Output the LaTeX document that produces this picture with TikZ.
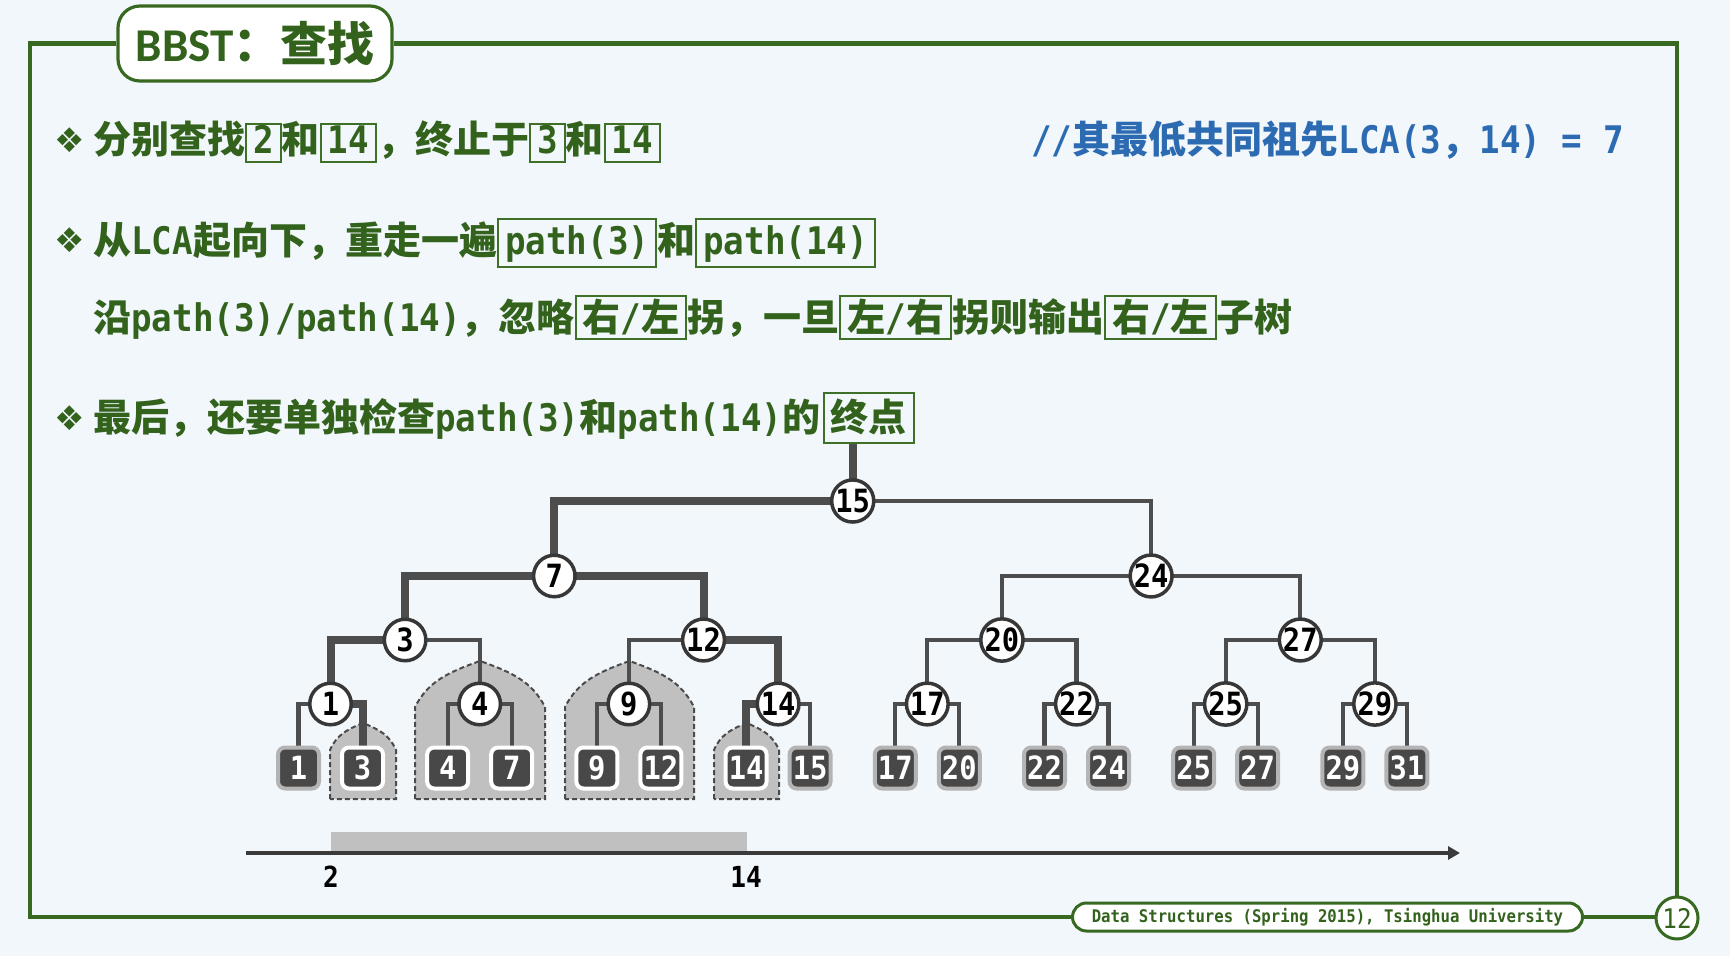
\documentclass[tikz,border=0pt]{standalone}
\usepackage{fontspec}
\usetikzlibrary{arrows.meta}
\newfontfamily\mymono{DejaVu Sans Mono}[FakeStretch=0.90]
\newfontfamily\cjkf{Noto Sans CJK SC}
\newfontfamily\calfont{Carlito}
\newfontfamily\dejafont{DejaVu Sans}
\newcommand\fsz[1]{\fontsize{#1}{#1}\selectfont}
\definecolor{bg}{RGB}{242,247,251}
\definecolor{fgreen}{RGB}{55,105,32}
\definecolor{tgreen}{RGB}{50,98,28}
\definecolor{boxgreen}{RGB}{62,112,40}
\definecolor{tblue}{RGB}{44,107,178}
\definecolor{cdark}{RGB}{55,55,55}
\definecolor{edgegray}{RGB}{77,77,77}
\definecolor{leafdark}{RGB}{72,72,72}
\definecolor{halogray}{RGB}{180,180,180}
\definecolor{regfill}{RGB}{192,192,192}
\definecolor{regdraw}{RGB}{75,75,75}
\definecolor{axisc}{RGB}{58,58,58}
\newcommand\bx[3]{{\setlength\fboxrule{1pt}\setlength\fboxsep{0pt}\color{boxgreen}\fbox{\kern3pt\rule[-#2]{0pt}{\dimexpr#1+#2\relax}\color{tgreen}#3\kern3pt}}}
\pgfdeclarelayer{regions}
\pgfdeclarelayer{edges}
\pgfsetlayers{regions,edges,main}
\begin{document}
\begin{tikzpicture}[x=0.5pt,y=-0.5pt,
 txt/.style={inner sep=0pt, text=tgreen, font=\fsz{19}\bfseries\mymono},
 bluetxt/.style={inner sep=0pt, text=tblue, font=\fsz{19}\bfseries\mymono},
 bul/.style={inner sep=0pt, text=tgreen, font=\fsz{17}\dejafont},
 circ/.style={circle, draw=cdark, line width=1.75pt, fill=white, minimum size=20.75pt, inner sep=0pt, font=\fsz{16}\bfseries\mymono},
 leafbox/.style={rectangle, rounded corners=3.5pt, fill=leafdark, draw=#1, line width=2pt, minimum size=20.5pt, inner sep=0pt, text=white, font=\fsz{16}\bfseries\mymono},
 leafbox/.default=halogray,
 thinedge/.style={draw=edgegray, line width=2.15pt},
 thickedge/.style={draw=edgegray, line width=4pt},
 region/.style={fill=regfill, draw=regdraw, line width=1pt, dash pattern=on 2.5pt off 1.5pt},
 frameline/.style={draw=fgreen, line width=2.25pt},
 gbox/.style={draw=boxgreen, line width=1pt, inner xsep=3.5pt, inner ysep=0pt, text=tgreen, font=\fsz{19}\bfseries\cjkf},
 axislabel/.style={inner sep=0pt, font=\fsz{14.5}\bfseries\mymono},
]
\useasboundingbox (0,0) rectangle (1730,956);
\begin{pgfonlayer}{regions}
\fill[bg] (0,0) rectangle (1730,956);
% shaded subtrees
\draw[region] (330,799) -- (330,750) .. controls (336.6,735) and (346.5,729.75) .. (363,723) .. controls (379.5,729.75) and (389.4,735) .. (396,750) -- (396,799) -- cycle;
\draw[region] (415,799) -- (415,707) .. controls (428,681.7) and (447.5,672.5) .. (480,661) .. controls (512.5,672.5) and (532,681.7) .. (545,707) -- (545,799) -- cycle;
\draw[region] (565,799) -- (565,707) .. controls (578,681.7) and (597.3,672.5) .. (629.5,661) .. controls (661.8,672.5) and (681,681.7) .. (694,707) -- (694,799) -- cycle;
\draw[region] (714,799) -- (714,750) .. controls (720.5,735) and (730.25,729.75) .. (746.5,723) .. controls (762.75,729.75) and (772.5,735) .. (779,750) -- (779,799) -- cycle;
\fill[regfill] (331,832) rectangle (747,851);
\end{pgfonlayer}

% title and footer
\node[draw=fgreen, line width=1.6pt, fill=white, rounded corners=11pt, minimum width=137pt, minimum height=37.5pt, text=tgreen, font=\fsz{23.5}\bfseries] (title) at (255,43.5) {{\calfont BBST}{\cjkf ：查找}};
\node[draw=fgreen, line width=1.5pt, fill=white, rounded corners=7pt, minimum width=255pt, minimum height=14pt, inner sep=0pt, text=tgreen, font=\fsz{8.7}\bfseries\mymono] (pill) at (1327.5,917) {Data Structures (Spring 2015), Tsinghua University};
\node[circle, draw=fgreen, line width=1.5pt, fill=white, minimum size=21pt, inner sep=0pt, text=tgreen, font=\fsz{13.5}\mymono] (pg) at (1677,918) {12};
\coordinate (tl) at (30,43.5);
\coordinate (bl) at (30,917);
\coordinate (tr) at (1677,43.5);

% text lines
\node[bul] (b1) at (70,140) {❖};
\node[bul] (b2) at (70,240) {❖};
\node[bul] (b4) at (70,418) {❖};
\node[txt, anchor=base west] (l1) at (93,153.5) {{\cjkf 分别查找}\bx{14pt}{4pt}{2}{\cjkf 和}\bx{14pt}{4pt}{14}{\cjkf ，终止于}\bx{14pt}{4pt}{3}{\cjkf 和}\bx{14pt}{4pt}{14}};
\node[bluetxt, anchor=base west] (lca) at (1031,153.5) {//{\cjkf 其最低共同祖先}LCA(3{\cjkf ，}14) = 7};
\node[txt, anchor=base west] (l2) at (93,254.5) {{\cjkf 从}LCA{\cjkf 起向下，重走一遍}\bx{17pt}{6pt}{path(3)}{\cjkf 和}\bx{17pt}{6pt}{path(14)}};
\node[txt, anchor=base west] (l3) at (93,331.5) {{\cjkf 沿}path(3)/path(14){\cjkf ，忽略}\bx{17pt}{3.5pt}{{\cjkf 右}/{\cjkf 左}}{\cjkf 拐，一旦}\bx{17pt}{3.5pt}{{\cjkf 左}/{\cjkf 右}}{\cjkf 拐则输出}\bx{17pt}{3.5pt}{{\cjkf 右}/{\cjkf 左}}{\cjkf 子树}};
\node[txt, anchor=base west] (l4) at (93,432) {{\cjkf 最后，还要单独检查}path(3){\cjkf 和}path(14){\cjkf 的}};
\node[gbox, anchor=base west] (zd) at ([xshift=1pt]l4.base east) {\rule[-5.5pt]{0pt}{25pt}终点};

% tree nodes
\node[circ] (n15) at (852.7,501) {15};
\node[circ] (n7) at (554.3,576) {7};
\node[circ] (n24) at (1151.1,576) {24};
\node[circ] (n3) at (405.1,640) {3};
\node[circ] (n12) at (703.5,640) {12};
\node[circ] (n20) at (1001.9,640) {20};
\node[circ] (n27) at (1300.3,640) {27};
\node[circ] (n1) at (330.5,704) {1};
\node[circ] (n4) at (479.7,704) {4};
\node[circ] (n9) at (628.9,704) {9};
\node[circ] (n14) at (778.1,704) {14};
\node[circ] (n17) at (927.3,704) {17};
\node[circ] (n22) at (1076.5,704) {22};
\node[circ] (n25) at (1225.7,704) {25};
\node[circ] (n29) at (1374.9,704) {29};
\node[leafbox] (f1) at (298.5,768) {1};
\node[leafbox=white] (f3) at (362.5,768) {3};
\node[leafbox=white] (f4) at (447.7,768) {4};
\node[leafbox=white] (f7) at (511.7,768) {7};
\node[leafbox=white] (f9) at (596.9,768) {9};
\node[leafbox=white] (f12) at (660.9,768) {12};
\node[leafbox=white] (f14) at (746.1,768) {14};
\node[leafbox] (f15) at (810.1,768) {15};
\node[leafbox] (f17) at (895.3,768) {17};
\node[leafbox] (f20) at (959.3,768) {20};
\node[leafbox] (f22) at (1044.5,768) {22};
\node[leafbox] (f24) at (1108.5,768) {24};
\node[leafbox] (f25) at (1193.7,768) {25};
\node[leafbox] (f27) at (1257.7,768) {27};
\node[leafbox] (f29) at (1342.9,768) {29};
\node[leafbox] (f31) at (1406.9,768) {31};

% axis
\coordinate (a0) at (246,853);
\coordinate (a1) at (1460,853);
\node[axislabel] (lab2) at (331,877) {2};
\node[axislabel] (lab14) at (746,877) {14};

\begin{pgfonlayer}{edges}
\draw[frameline] (title.west) -- (tl) -- (bl) -- (pill.west);
\draw[frameline] (pill.east) -- (pill.east -| pg.west);
\draw[frameline] (pg.north) -- (tr) -- (title.east);
\draw[thickedge] (n15.center) -- (n15.center |- zd.south);
\draw[thickedge] (n15.center) -| (n7.center);
\draw[thinedge] (n15.center) -| (n24.center);
\draw[thickedge] (n7.center) -| (n3.center);
\draw[thickedge] (n7.center) -| (n12.center);
\draw[thinedge] (n24.center) -| (n20.center);
\draw[thinedge] (n24.center) -| (n27.center);
\draw[thickedge] (n3.center) -| (n1.center);
\draw[thinedge] (n3.center) -| (n4.center);
\draw[thinedge] (n12.center) -| (n9.center);
\draw[thickedge] (n12.center) -| (n14.center);
\draw[thinedge] (n20.center) -| (n17.center);
\draw[thinedge] (n20.center) -| (n22.center);
\draw[thinedge] (n27.center) -| (n25.center);
\draw[thinedge] (n27.center) -| (n29.center);
\draw[thinedge] (n1.center) -| (f1.center);
\draw[thickedge] (n1.center) -| (f3.center);
\draw[thinedge] (n4.center) -| (f4.center);
\draw[thinedge] (n4.center) -| (f7.center);
\draw[thinedge] (n9.center) -| (f9.center);
\draw[thinedge] (n9.center) -| (f12.center);
\draw[thickedge] (n14.center) -| (f14.center);
\draw[thinedge] (n14.center) -| (f15.center);
\draw[thinedge] (n17.center) -| (f17.center);
\draw[thinedge] (n17.center) -| (f20.center);
\draw[thinedge] (n22.center) -| (f22.center);
\draw[thinedge] (n22.center) -| (f24.center);
\draw[thinedge] (n25.center) -| (f25.center);
\draw[thinedge] (n25.center) -| (f27.center);
\draw[thinedge] (n29.center) -| (f29.center);
\draw[thinedge] (n29.center) -| (f31.center);
\draw[draw=axisc, line width=2pt, -{Triangle[length=6pt,width=6.5pt]}] (a0) -- (a1);
\end{pgfonlayer}
\end{tikzpicture}
\end{document}
